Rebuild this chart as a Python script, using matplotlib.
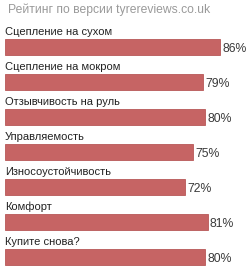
import matplotlib.pyplot as plt

categories = [
    "Сцепление на сухом",
    "Сцепление на мокром",
    "Отзывчивость на руль",
    "Управляемость",
    "Износоустойчивость",
    "Комфорт",
    "Купите снова?",
]
values = [86, 79, 80, 75, 72, 81, 80]
title = "Рейтинг по версии tyrereviews.co.uk"

plt.rcParams["font.family"] = ["Liberation Sans", "DejaVu Sans"]

fig = plt.figure(figsize=(2.5, 2.67), dpi=100)
ax = fig.add_axes([5 / 250, 0, 245 / 250, 1])

ypos = list(range(len(categories)))
ax.barh(ypos, values, height=0.46, color="#C66464", edgecolor="#B85858", linewidth=0.6)

for y, cat, v in zip(ypos, categories, values):
    ax.text(0, y - 0.43, cat, ha="left", va="center", fontsize=8, color="#222222")
    ax.text(v + 1, y + 0.07, f"{v}%", ha="left", va="center", fontsize=8.8,
            color="#3A3A3A")

ax.set_xlim(0, 98)
ax.set_ylim(6.286, -1.343)
ax.axis("off")

fig.text(8 / 250, 1 - 10 / 267, title, ha="left", va="center", fontsize=8.7,
         color="#9A9A9A")

fig.savefig("out.png", dpi=100)
